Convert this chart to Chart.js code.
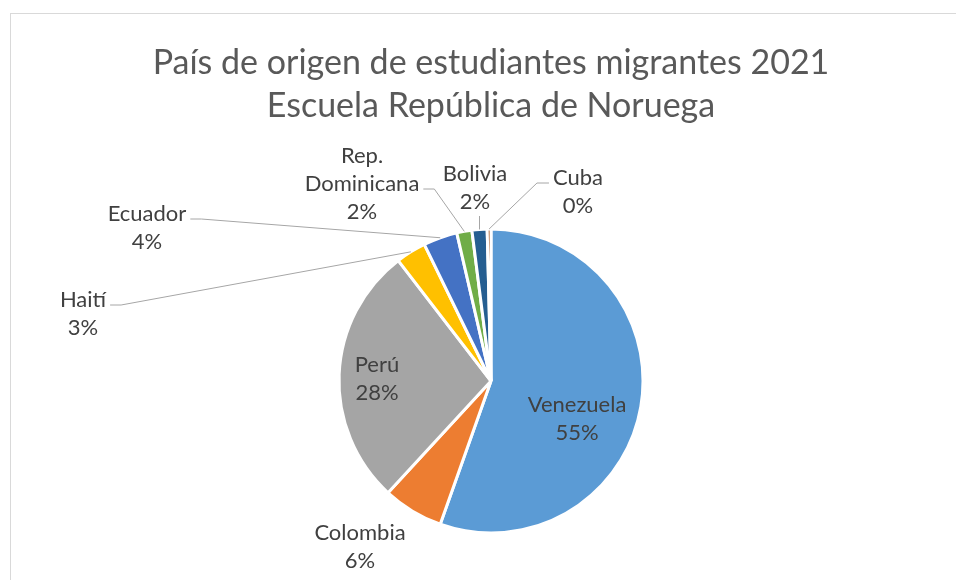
<!DOCTYPE html>
<html lang="es">
<head>
    <meta charset="UTF-8">
    <title>País de origen de estudiantes migrantes 2021</title>
    <style>
        body { margin: 0; background: #fff; }
        #wrap { width: 956px; height: 580px; }
    </style>
</head>
<body>
    <div id="wrap"><canvas id="origenChart"></canvas></div>

    <script src="https://cdn.jsdelivr.net/npm/chart.js"></script>
    <script>
        // datos (cantidad de estudiantes)
        const paises = ['Venezuela', 'Colombia', 'Perú', 'Haití', 'Ecuador', 'Rep. Dominicana', 'Bolivia', 'Cuba'];
        const estudiantes = [138, 16, 69, 8, 9, 4, 4, 1];
        const titulo = ['País de origen de estudiantes migrantes 2021', 'Escuela República de Noruega'];

        const colores = ['#5B9BD5', '#ED7D31', '#A5A5A5', '#FFC000', '#4472C4', '#70AD47', '#255E91', '#9E480E'];
        const fuente = 'Lato, "Open Sans", sans-serif';

        // ubicación de cada etiqueta respecto al centro de la torta
        const etiquetas = [
            { dx: 86, dy: 38 },
            { dx: -131, dy: 166 },
            { dx: -114, dy: -2 },
            { dx: -408, dy: -67, guia: 'derecha' },
            { dx: -344, dy: -153, guia: 'derecha' },
            { dx: -129, dy: -197, guia: 'derecha' },
            { dx: -16, dy: -193, guia: 'abajo' },
            { dx: 87, dy: -189, guia: 'izquierda' }
        ];

        const marco = {
            id: 'marco',
            beforeDraw(chart) {
                const ctx = chart.ctx;
                ctx.save();
                ctx.strokeStyle = '#D9D9D9';
                ctx.lineWidth = 1;
                ctx.strokeRect(10.5, 13.5, 980, 600);
                ctx.restore();
            }
        };

        const rotulos = {
            id: 'rotulos',
            afterDatasetsDraw(chart) {
                const ctx = chart.ctx;
                const arcos = chart.getDatasetMeta(0).data;
                const total = estudiantes.reduce((a, b) => a + b, 0);
                const alto = 28;
                ctx.save();
                ctx.font = '22px ' + fuente;
                ctx.textAlign = 'center';
                ctx.textBaseline = 'middle';
                arcos.forEach((arco, i) => {
                    const p = arco.getProps(['x', 'y', 'startAngle', 'endAngle', 'outerRadius'], true);
                    const et = etiquetas[i];
                    const cx = p.x + et.dx;
                    const cy = p.y + et.dy;
                    const nombre = paises[i].length > 12 ? paises[i].split(' ') : [paises[i]];
                    const lineas = nombre.concat([Math.round(estudiantes[i] / total * 100) + '%']);
                    const y0 = cy - (lineas.length - 1) / 2 * alto;

                    if (et.guia) {
                        const medio = (p.startAngle + p.endAngle) / 2;
                        const ax = p.x + Math.cos(medio) * p.outerRadius;
                        const ay = p.y + Math.sin(medio) * p.outerRadius;
                        const ancho = Math.max(...nombre.map(t => ctx.measureText(t).width));
                        const ly = y0 + (nombre.length - 1) * alto + 5;
                        ctx.strokeStyle = '#A6A6A6';
                        ctx.lineWidth = 1;
                        ctx.beginPath();
                        if (et.guia === 'derecha') {
                            const x1 = cx + ancho / 2 + 4;
                            ctx.moveTo(x1, ly);
                            ctx.lineTo(x1 + 11, ly);
                            ctx.lineTo(ax, ay);
                        } else if (et.guia === 'izquierda') {
                            const x1 = cx - ancho / 2 - 4;
                            ctx.moveTo(x1, ly);
                            ctx.lineTo(x1 - 12, ly);
                            ctx.lineTo(ax, ay);
                        } else {
                            ctx.moveTo(ax, y0 + (lineas.length - 1) * alto + 14);
                            ctx.lineTo(ax, ay);
                        }
                        ctx.stroke();
                    }

                    ctx.fillStyle = '#404040';
                    lineas.forEach((t, k) => ctx.fillText(t, cx, y0 + k * alto));
                });
                ctx.restore();
            }
        };

        const ctx = document.getElementById('origenChart').getContext('2d');
        const chart = new Chart(ctx, {
            type: 'pie',
            data: {
                labels: paises,
                datasets: [{
                    data: estudiantes,
                    backgroundColor: colores,
                    borderColor: '#FFFFFF',
                    borderWidth: 3
                }]
            },
            options: {
                responsive: true,
                maintainAspectRatio: false,
                animation: false,
                radius: 152,
                layout: { padding: { left: 26, right: 0, top: 0, bottom: 17 } },
                plugins: {
                    legend: { display: false },
                    tooltip: { enabled: false },
                    title: {
                        display: true,
                        text: titulo,
                        color: '#595959',
                        font: { family: fuente, size: 34, weight: 'normal', lineHeight: 1.25 },
                        padding: { top: 42, bottom: 72 }
                    }
                }
            },
            plugins: [marco, rotulos]
        });
    </script>
</body>
</html>
